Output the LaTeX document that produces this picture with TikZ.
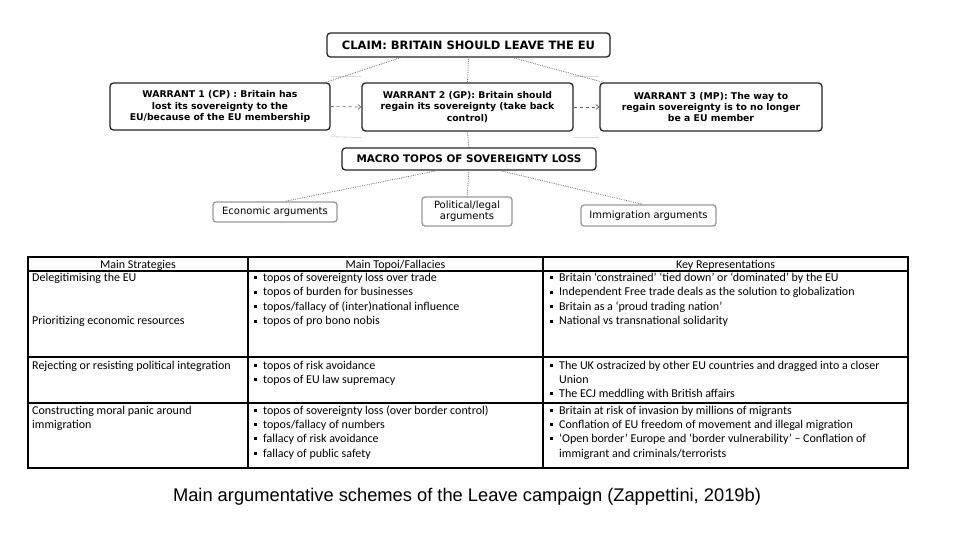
\documentclass[tikz,border=0pt]{standalone}
\usepackage{fontspec}
\setmainfont{Carlito}
\newfontfamily\arialf{Liberation Sans}
\newfontfamily\dvs{DejaVu Sans}
\usetikzlibrary{arrows.meta,calc}
\newcommand\bitem{\makebox[9pt][l]{\raisebox{2pt}{\rule{2.8pt}{2.8pt}}}}
\begin{document}
\begin{tikzpicture}[x=1pt,y=-1pt,
 mainbox/.style={draw=black!85, line width=1.3pt, rounded corners=3.5pt, fill=white, font=\dvs\bfseries\fontsize{9.3}{11.3}\selectfont, align=center, inner sep=2pt},
 bigfont/.style={font=\dvs\bfseries\fontsize{11.5}{13}\selectfont},
 subbox/.style={draw=black!40, line width=1.3pt, rounded corners=3pt, fill=white, font=\dvs\fontsize{10}{11}\selectfont, align=center, inner sep=1pt},
 link/.style={draw=black!55, densely dotted, line width=0.8pt},
 flow/.style={draw=black!60, dashed, line width=0.7pt, -{Straight Barb[length=3pt,width=5pt]}},
 faint/.style={draw=black!15, line width=0.8pt},
 cell/.style={anchor=base west, inner sep=0pt, font=\fontsize{12}{14}\selectfont},
 hcell/.style={anchor=base, inner sep=0pt, font=\fontsize{12}{14}\selectfont},
 gridline/.style={line width=1.3pt}
]
\useasboundingbox[fill=white] (0,0) rectangle (960,540);

% ---------- diagram ----------
\node[mainbox, bigfont, minimum width=283pt, minimum height=24pt] (claim) at (468.5,45) {CLAIM: BRITAIN SHOULD LEAVE THE EU};
\node[mainbox, minimum width=220pt, minimum height=47pt] (w1) at (220,106.5) {WARRANT 1 (CP) : Britain has\\lost its sovereignty to the\\EU/because of the EU membership};
\node[mainbox, minimum width=211pt, minimum height=48pt] (w2) at (467.5,107) {WARRANT 2 (GP): Britain should\\regain its sovereignty (take back\\control)};
\node[mainbox, minimum width=222pt, minimum height=48pt] (w3) at (711,107) {WARRANT 3 (MP): The way to\\regain sovereignty is to no longer\\be a EU member};
\node[mainbox, font=\dvs\bfseries\fontsize{10.4}{12}\selectfont, minimum width=254pt, minimum height=22pt] (macro) at (469,159) {MACRO TOPOS OF SOVEREIGNTY LOSS};
\node[subbox, minimum width=124pt, minimum height=20pt] (econ) at (275,212) {Economic arguments};
\node[subbox, minimum width=90pt, minimum height=29pt] (pol) at (467,211.5) {Political/legal\\arguments};
\node[subbox, minimum width=135pt, minimum height=21pt] (imm) at (648.5,215.5) {Immigration arguments};

% faint band lines between warrants
\draw[faint] ([yshift=6pt]w1.north east) -- ([yshift=6pt]w2.north west);
\draw[faint] ([yshift=-6pt]w1.south east) -- ([yshift=-6pt]w2.south west);
\draw[faint] ([yshift=6pt]w2.north east) -- ([yshift=6pt]w3.north west);
\draw[faint] ([yshift=-6pt]w2.south east) -- ([yshift=-6pt]w3.south west);

% connectors
\draw[link] ([xshift=-68pt]claim.south) -- ([xshift=-5pt]w1.north east);
\draw[link] (claim.south) -- (w2.north);
\draw[link] ([xshift=44pt]claim.south) -- ([xshift=4pt]w3.north west);
\draw[link] (w2.south) -- (macro.north);
\draw[flow] (w1.east) -- (w2.west);
\draw[flow] (w2.east) -- (w3.west);
\draw[link] ([xshift=-32pt]macro.south) -- ([xshift=10pt]econ.north);
\draw[link] (macro.south) -- (pol.north);
\draw[link] ([xshift=31pt]macro.south) -- ([xshift=-6pt]imm.north);

% ---------- table ----------
\draw[gridline] (28,257) rectangle (908,468);
\draw[gridline] (28,271) -- (908,271);
\draw[gridline] (28,357) -- (908,357);
\draw[gridline] (28,403) -- (908,403);
\draw[gridline] (248,257) -- (248,468);
\draw[gridline] (543,257) -- (543,468);

\node[hcell] (h1) at (138,268) {Main Strategies};
\node[hcell] (h2) at (395.5,268) {Main Topoi/Fallacies};
\node[hcell] (h3) at (725.5,268) {Key Representations};

% column 1
\node[cell] (s1) at (32,281) {Delegitimising the EU};
\node[cell] (s2) at (32,324.5) {Prioritizing economic resources};
\node[cell] (s3) at (32,369) {Rejecting or resisting political integration};
\node[cell] (s4) at (32,414) {Constructing moral panic around};
\node[cell] (s5) at (32,428) {immigration};

% column 2
\node[cell] (t1) at (254,281) {\bitem topos of sovereignty loss over trade};
\node[cell] (t2) at (254,295.5) {\bitem topos of burden for businesses};
\node[cell] (t3) at (254,310) {\bitem topos/fallacy of (inter)national influence};
\node[cell] (t4) at (254,324.5) {\bitem topos of pro bono nobis};
\node[cell] (t5) at (254,369) {\bitem topos of risk avoidance};
\node[cell] (t6) at (254,383) {\bitem topos of EU law supremacy};
\node[cell] (t7) at (254,414) {\bitem topos of sovereignty loss (over border control)};
\node[cell] (t8) at (254,428) {\bitem topos/fallacy of numbers};
\node[cell] (t9) at (254,442) {\bitem fallacy of risk avoidance};
\node[cell] (t10) at (254,457) {\bitem fallacy of public safety};

% column 3
\node[cell] (k1) at (550,281) {\bitem Britain ‘constrained’ ‘tied down’ or ‘dominated’ by the EU};
\node[cell] (k2) at (550,295.5) {\bitem Independent Free trade deals as the solution to globalization};
\node[cell] (k3) at (550,310) {\bitem Britain as a ‘proud trading nation’};
\node[cell] (k4) at (550,324.5) {\bitem National vs transnational solidarity};
\node[cell] (k5) at (550,369) {\bitem The UK ostracized by other EU countries and dragged into a closer};
\node[cell] (k6) at (559,383) {Union};
\node[cell] (k7) at (550,397) {\bitem The ECJ meddling with British affairs};
\node[cell] (k8) at (550,414) {\bitem Britain at risk of invasion by millions of migrants};
\node[cell] (k9) at (550,428) {\bitem Conflation of EU freedom of movement and illegal migration};
\node[cell] (k10) at (550,442) {\bitem ‘Open border’ Europe and ‘border vulnerability’ – Conflation of};
\node[cell] (k11) at (559,457) {immigrant and criminals/terrorists};

% caption
\node[inner sep=0pt, font=\arialf\fontsize{18.3}{20}\selectfont] (cap) at (467,497) {Main argumentative schemes of the Leave campaign (Zappettini, 2019b)};
\end{tikzpicture}
\end{document}
